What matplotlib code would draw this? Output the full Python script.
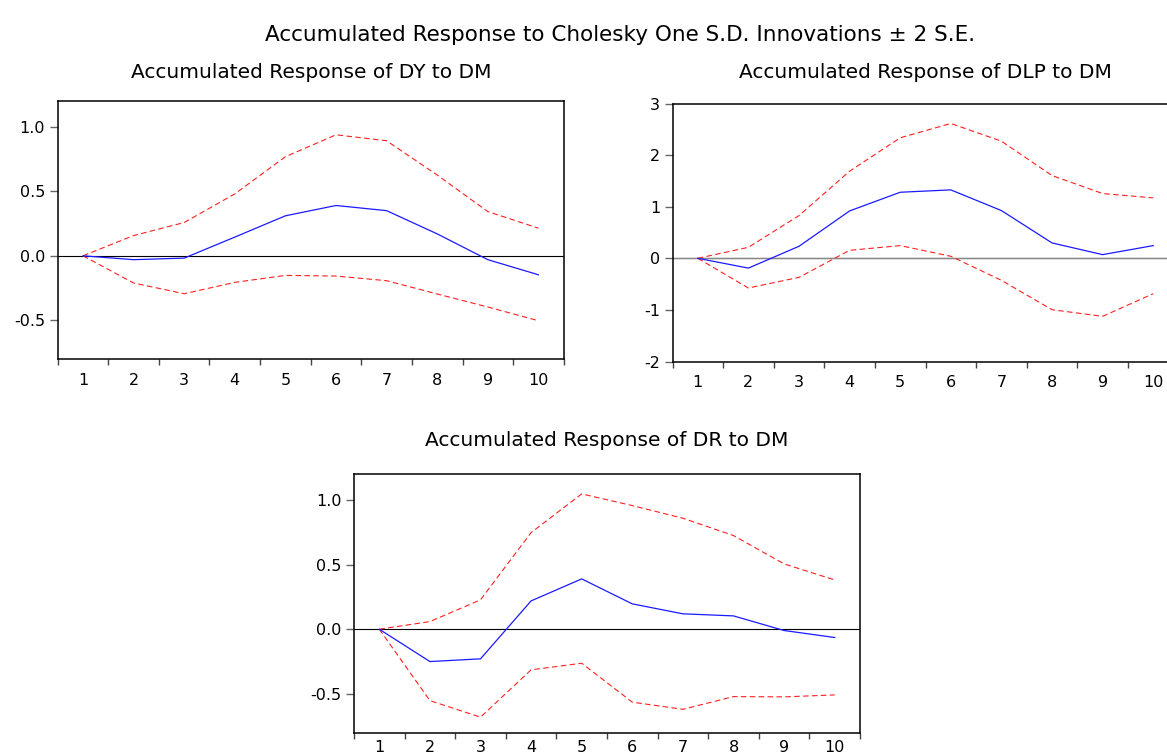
import numpy as np
import matplotlib
matplotlib.use("Agg")
import matplotlib.pyplot as plt
from matplotlib.ticker import FixedLocator, FormatStrFormatter

plt.rcParams['font.family'] = ['DejaVu Sans']
plt.rcParams['axes.unicode_minus'] = False

periods = np.arange(1, 11)

# accumulated responses to a DM shock, with +/- 2 S.E. bands
dy_resp = [0.0, -0.03, -0.018, 0.145, 0.31, 0.39, 0.35, 0.17, -0.03, -0.147]
dy_upper = [0.0, 0.157, 0.258, 0.48, 0.768, 0.938, 0.892, 0.626, 0.343, 0.214]
dy_lower = [0.0, -0.211, -0.294, -0.206, -0.152, -0.157, -0.193, -0.296, -0.397, -0.503]

dlp_resp = [0.0, -0.19, 0.233, 0.918, 1.28, 1.326, 0.925, 0.298, 0.071, 0.246]
dlp_upper = [0.0, 0.213, 0.828, 1.688, 2.335, 2.613, 2.27, 1.604, 1.255, 1.171]
dlp_lower = [0.0, -0.576, -0.369, 0.155, 0.246, 0.039, -0.427, -0.996, -1.125, -0.686]

dr_resp = [0.0, -0.25, -0.229, 0.219, 0.389, 0.196, 0.119, 0.103, -0.01, -0.064]
dr_upper = [0.0, 0.059, 0.227, 0.747, 1.046, 0.956, 0.858, 0.724, 0.505, 0.381]
dr_lower = [0.0, -0.552, -0.68, -0.314, -0.263, -0.564, -0.619, -0.521, -0.523, -0.508]

W, H = 1167, 753
fig = plt.figure(figsize=(W / 100, H / 100), dpi=100)


def px_axes(left, top, width, height):
    return fig.add_axes([left / W, 1 - (top + height) / H, width / W, height / H])


def response_panel(ax, resp, upper, lower, ylim, yticks, fmt, xpad=10):
    ax.axhline(0, color='black', lw=0.8, zorder=1)
    ax.plot(periods, upper, color='#ff2020', lw=0.8, dashes=(5, 3))
    ax.plot(periods, lower, color='#ff2020', lw=0.8, dashes=(5, 3))
    ax.plot(periods, resp, color='#1a1aff', lw=0.9)
    ax.set_xlim(0.5, 10.5)
    ax.set_ylim(*ylim)
    ax.set_yticks(yticks)
    ax.yaxis.set_major_formatter(FormatStrFormatter(fmt))
    ax.set_xticks(periods)
    ax.xaxis.set_minor_locator(FixedLocator(np.arange(0.5, 11, 1)))
    ax.tick_params(axis='x', which='major', length=0, pad=xpad, labelsize=11.5)
    ax.tick_params(axis='x', which='minor', length=4, width=1, color='#444')
    ax.tick_params(axis='y', length=6, width=1, color='#666', pad=3, labelsize=11.5)
    for s in ax.spines.values():
        s.set_linewidth(1.1)


ax1 = px_axes(57.7, 101, 506, 258)
response_panel(ax1, dy_resp, dy_upper, dy_lower, (-0.8, 1.2), [-0.5, 0.0, 0.5, 1.0], '%.1f')

ax2 = px_axes(672.5, 103.5, 506, 258)
response_panel(ax2, dlp_resp, dlp_upper, dlp_lower, (-2, 3), [-2, -1, 0, 1, 2, 3], '%d')
ax2.axhline(0, color='#888', lw=1.0, zorder=1)

ax3 = px_axes(354, 474, 506, 258.7)
response_panel(ax3, dr_resp, dr_upper, dr_lower, (-0.8, 1.2), [-0.5, 0.0, 0.5, 1.0], '%.1f', xpad=5)

fig.text(620 / W, 1 - 35 / H, 'Accumulated Response to Cholesky One S.D. Innovations \u00b1 2 S.E.',
         ha='center', va='center', fontsize=15.5)
fig.text(311 / W, 1 - 72 / H, 'Accumulated Response of DY to DM', ha='center', va='center', fontsize=14.5)
fig.text(925 / W, 1 - 72 / H, 'Accumulated Response of DLP to DM', ha='center', va='center', fontsize=14.5)
fig.text(607 / W, 1 - 440 / H, 'Accumulated Response of DR to DM', ha='center', va='center', fontsize=14.5)

fig.savefig('out.png', dpi=100)
